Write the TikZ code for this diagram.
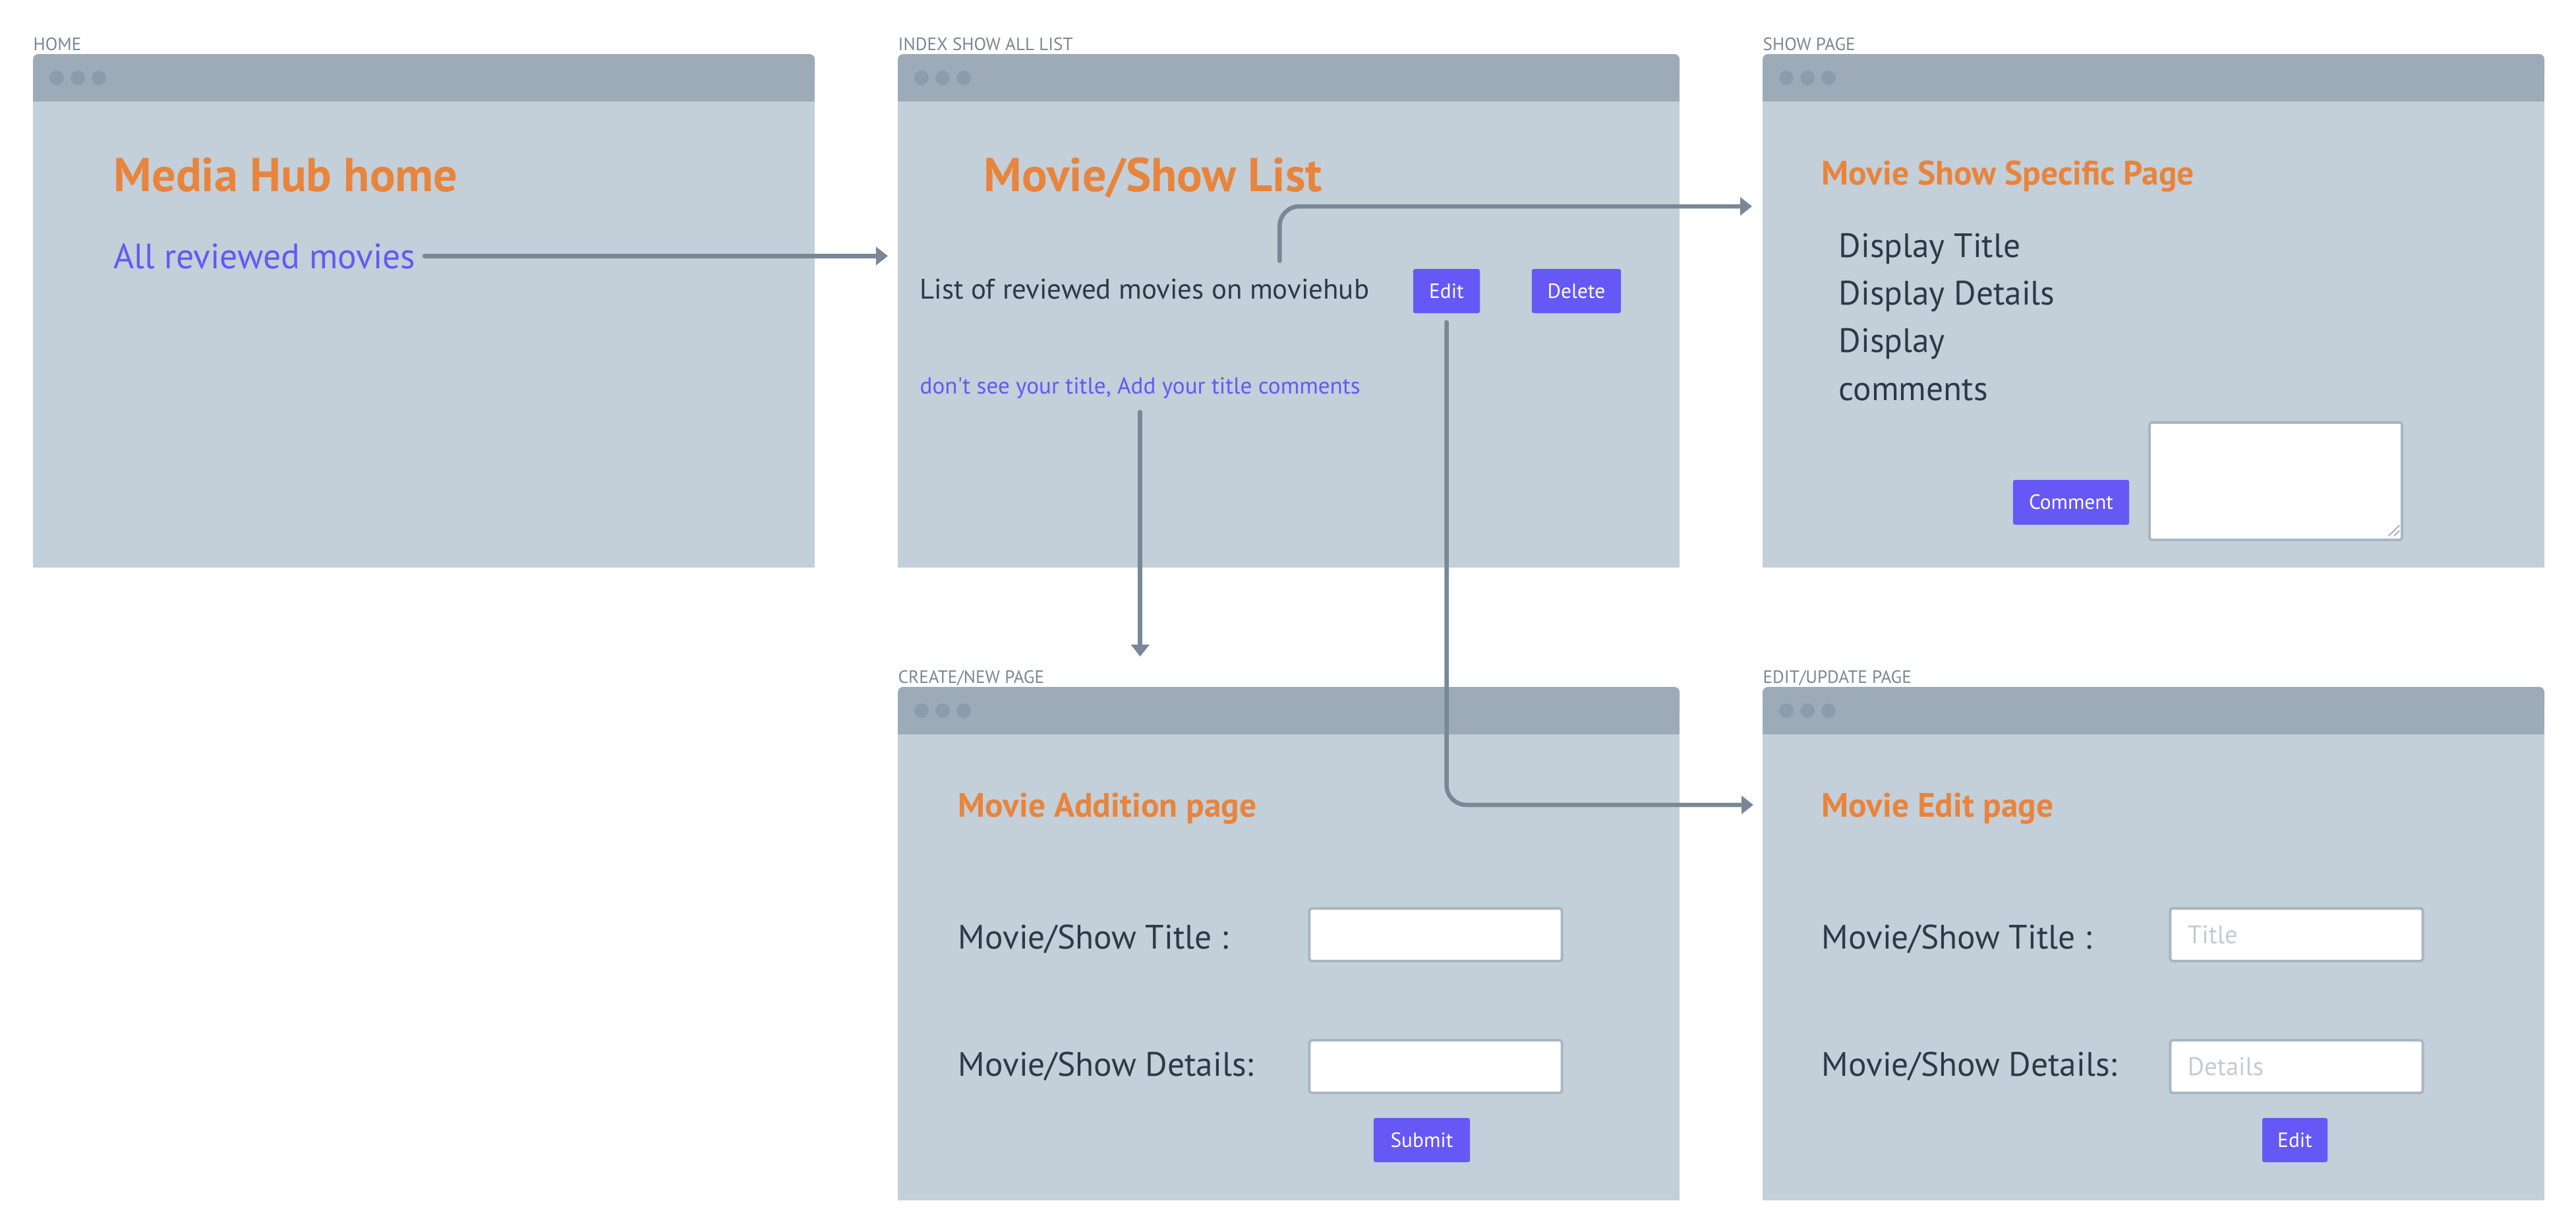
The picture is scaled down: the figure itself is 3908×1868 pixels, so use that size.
\documentclass[tikz,border=0pt]{standalone}
\usepackage{fontspec}
\setmainfont{PT Sans}
\usetikzlibrary{arrows.meta, calc}

\definecolor{winbody}{HTML}{C3CFD9}
\definecolor{winbar}{HTML}{9DABB8}
\definecolor{windot}{HTML}{8B9CAB}
\definecolor{wingray}{HTML}{7B8794}
\definecolor{linkgray}{HTML}{788896}
\definecolor{huborange}{HTML}{E8843C}
\definecolor{hubpurple}{HTML}{6558F5}
\definecolor{hubtext}{HTML}{2B3A48}
\definecolor{fieldline}{HTML}{A8B6C2}
\definecolor{hint}{HTML}{C2CCD5}

\begin{document}
\begin{tikzpicture}[x=0.01cm, y=-0.01cm,
  win/.style={minimum width=11.84cm, minimum height=7.77cm, inner sep=0},
  winlbl/.style={text=wingray, font=\fontsize{7.7}{9}\selectfont, anchor=base west, inner sep=0},
  bigtitle/.style={text=huborange, font=\bfseries\fontsize{20.5}{24}\selectfont, anchor=base west, inner sep=0},
  title/.style={text=huborange, font=\bfseries\fontsize{14.6}{18}\selectfont, anchor=base west, inner sep=0},
  body/.style={text=hubtext, font=\fontsize{14.6}{20.5}\selectfont, anchor=base west, inner sep=0},
  btn/.style={fill=hubpurple, text=white, rounded corners=0.03cm, minimum height=0.67cm, inner sep=0, font=\fontsize{8.9}{10}\selectfont},
  field/.style={fill=white, draw=fieldline, line width=1.1pt, rounded corners=0.04cm, minimum height=0.8cm, text width=3.3cm, inner xsep=0.265cm, align=left, text=hint, font=\fontsize{11}{13}\selectfont},
  link/.style={draw=linkgray, line width=1.85pt, line cap=round, -{Triangle[length=0.18cm,width=0.27cm]}, rounded corners=0.3cm}
]
\fill[white] (0,0) rectangle (3908,1868);
\useasboundingbox (0,0) rectangle (3908,1868);

% browser windows
\foreach \nm/\x/\y/\lbl in {home/50/82/HOME, index/1362/82/INDEX SHOW ALL LIST, show/2674/82/SHOW PAGE, create/1362/1042/{CREATE/NEW PAGE}, update/2674/1042/{EDIT/UPDATE PAGE}} {
  \node[win, anchor=north west] (\nm) at (\x,\y) {};
  \fill[winbody] ([yshift=-0.5cm]\nm.north west) rectangle (\nm.south east);
  \fill[winbar, rounded corners=0.08cm] (\nm.north west) rectangle ([yshift=-0.4cm]\nm.north east);
  \fill[winbar] ([yshift=-0.2cm]\nm.north west) rectangle ([yshift=-0.72cm]\nm.north east);
  \foreach \d in {0,1,2}
    \fill[windot] ([xshift=0.36cm+0.32cm*\d, yshift=-0.36cm]\nm.north west) circle (0.11cm);
  \node[winlbl] at ([yshift=0.06cm]\nm.north west) {\lbl};
}

% home
\node[bigtitle] (hubtitle) at (172,290) {Media Hub home};
\node[body, text=hubpurple, font=\fontsize{15.2}{18}\selectfont] (allrev) at (172,407) {All reviewed movies};

% index
\node[bigtitle] (listtitle) at (1492,290) {Movie/Show List};
\node[body, font=\fontsize{12.2}{14}\selectfont] (listtxt) at (1395,453) {List of reviewed movies on moviehub};
\node[btn, minimum width=1.01cm] (editbtn) at (2194.5,441.5) {Edit};
\node[btn, minimum width=1.35cm] (delbtn) at (2391.5,441.5) {Delete};
\node[body, text=hubpurple, font=\fontsize{10}{12}\selectfont] (addtxt) at (1395,597) {don\textquotesingle t see your title, Add your title comments};

% show
\node[title] (showtitle) at (2763,280) {Movie Show Specific Page};
\node[body, align=left] (details) at (2789,607) {Display Title\\Display Details\\Display\\comments};
\node[btn, minimum width=1.76cm, minimum height=0.68cm] (combtn) at (3142,762) {Comment};
\node[field, minimum height=1.78cm] (combox) at (3452.5,730) {};
\draw[fieldline, line width=0.6pt] ([shift={(-22.5,-8)}]combox.south east) -- ([shift={(-6,-24)}]combox.south east);
\draw[fieldline, line width=0.6pt] ([shift={(-14,-8)}]combox.south east) -- ([shift={(-6,-16)}]combox.south east);

% create
\node[title] (addtitle) at (1453,1239) {Movie Addition page};
\node[body] (addname) at (1453,1439) {Movie/Show Title :};
\node[body] (adddesc) at (1453,1632) {Movie/Show Details:};
\node[field] (addnamebox) at (2178,1418) {};
\node[field] (adddescbox) at (2178,1618) {};
\node[btn, minimum width=1.46cm] (submitbtn) at (2157,1729.5) {Submit};

% update
\node[title] (edittitle) at (2763,1239) {Movie Edit page};
\node[body] (editname) at (2763,1439) {Movie/Show Title :};
\node[body] (editdesc) at (2763,1632) {Movie/Show Details:};
\node[field] (editnamebox) at (3484,1418) {Title};
\node[field] (editdescbox) at (3484,1618) {Details};
\node[btn, minimum width=0.99cm] (savebtn) at (3481.5,1729.5) {Edit};

% links
\draw[link, shorten <=0.13cm, shorten >=0.15cm] (allrev.east) -- (allrev.east -| index.west);
\draw[link, shorten <=0.26cm, shorten >=0.16cm] ($(listtxt.north west)!0.8!(listtxt.north east)$) |- (show.west |- 0,313);
\draw[link, shorten <=0.2cm, shorten >=0.46cm] (addtxt.south) -- (addtxt.south |- create.north);
\draw[link, shorten <=0.13cm, shorten >=0.14cm] (editbtn.south) |- (update.west |- 0,1221);
\end{tikzpicture}
\end{document}
